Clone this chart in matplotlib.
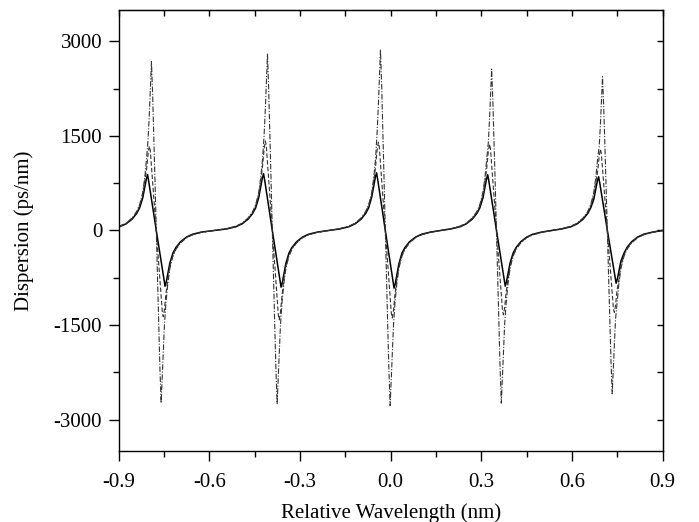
import matplotlib
matplotlib.use("Agg")
import matplotlib.pyplot as plt
from matplotlib.ticker import MultipleLocator

plt.rcParams['font.family'] = ['Liberation Serif', 'DejaVu Serif']
plt.rcParams['axes.unicode_minus'] = False

# curve values (wavelength in nm, dispersion in ps/nm)
solid_x = [-0.9, -0.876, -0.856, -0.841, -0.831, -0.821, -0.814, -0.809, -0.805, -0.801, -0.791, -0.776,
           -0.761, -0.751, -0.747, -0.743, -0.738, -0.731, -0.721, -0.711, -0.696, -0.676, -0.656, -0.626,
           -0.584,
           -0.542, -0.512, -0.492, -0.472, -0.457, -0.447, -0.437, -0.430, -0.425, -0.421, -0.417, -0.407, -0.392,
           -0.377, -0.367, -0.363, -0.359, -0.354, -0.347, -0.337, -0.327, -0.312, -0.292, -0.272, -0.242,
           -0.205,
           -0.168, -0.138, -0.118, -0.098, -0.083, -0.073, -0.063, -0.056, -0.051, -0.047, -0.043, -0.033, -0.018,
           -0.003, 0.007, 0.011, 0.015, 0.020, 0.027, 0.037, 0.047, 0.062, 0.082, 0.102, 0.132,
           0.166,
           0.200, 0.230, 0.250, 0.270, 0.285, 0.295, 0.305, 0.312, 0.317, 0.321, 0.325, 0.335, 0.350,
           0.365, 0.375, 0.379, 0.383, 0.388, 0.395, 0.405, 0.415, 0.430, 0.450, 0.470, 0.500,
           0.534,
           0.567, 0.597, 0.617, 0.637, 0.652, 0.662, 0.672, 0.679, 0.684, 0.688, 0.692, 0.702, 0.717,
           0.732, 0.742, 0.746, 0.750, 0.755, 0.762, 0.772, 0.782, 0.797, 0.817, 0.837, 0.867,
           0.9]
solid_y = [55, 105, 180, 270, 360, 515, 690, 815, 885, 777, 462, 0,
           -462, -777, -885, -815, -690, -515, -360, -270, -180, -105, -60, -25,
           0,
           25, 60, 105, 180, 270, 360, 520, 700, 830, 900, 790, 470, 0,
           -470, -790, -900, -830, -700, -520, -360, -270, -180, -105, -60, -25,
           0,
           25, 60, 105, 180, 270, 360, 529, 712, 844, 915, 803, 478, 0,
           -478, -803, -916, -844, -712, -529, -360, -270, -180, -105, -60, -25,
           0,
           25, 60, 105, 180, 270, 360, 515, 690, 815, 885, 777, 462, 0,
           -462, -777, -885, -815, -690, -515, -360, -270, -180, -105, -60, -25,
           0,
           25, 60, 105, 180, 270, 360, 493, 664, 787, 853, 749, 446, 0,
           -437, -735, -837, -772, -651, -484, -360, -270, -180, -105, -60, -25,
           0]

dash_x = [-0.9, -0.876, -0.856, -0.841, -0.831, -0.821, -0.814, -0.808, -0.803, -0.799, -0.796, -0.786, -0.776,
          -0.766, -0.756, -0.753, -0.749, -0.744, -0.738, -0.731, -0.721, -0.711, -0.696, -0.676, -0.656, -0.626,
          -0.584,
          -0.542, -0.512, -0.492, -0.472, -0.457, -0.447, -0.437, -0.430, -0.424, -0.419, -0.415, -0.412, -0.402,
          -0.392, -0.382, -0.372, -0.369, -0.365, -0.360, -0.354, -0.347, -0.337, -0.327, -0.312, -0.292, -0.272,
          -0.242,
          -0.205,
          -0.168, -0.138, -0.118, -0.098, -0.083, -0.073, -0.063, -0.056, -0.050, -0.045, -0.041, -0.038, -0.028,
          -0.018, -0.008, 0.002, 0.005, 0.009, 0.014, 0.020, 0.027, 0.037, 0.047, 0.062, 0.082, 0.102, 0.132,
          0.166,
          0.200, 0.230, 0.250, 0.270, 0.285, 0.295, 0.305, 0.312, 0.318, 0.323, 0.327, 0.330, 0.340,
          0.350, 0.360, 0.370, 0.373, 0.377, 0.382, 0.388, 0.395, 0.405, 0.415, 0.430, 0.450, 0.470, 0.500,
          0.534,
          0.567, 0.597, 0.617, 0.637, 0.652, 0.662, 0.672, 0.679, 0.685, 0.690, 0.694, 0.697, 0.707,
          0.717, 0.727, 0.737, 0.740, 0.744, 0.749, 0.755, 0.762, 0.772, 0.782, 0.797, 0.817, 0.837, 0.867,
          0.9]
dash_y = [60, 110, 190, 285, 390, 560, 780, 976, 1225, 1340, 1273, 636, 0,
          -651, -1302, -1370, -1253, -999, -780, -560, -390, -285, -190, -110, -65, -28,
          0,
          28, 65, 110, 190, 285, 390, 560, 780, 1034, 1298, 1420, 1349, 674,
          0, -674, -1349, -1420, -1298, -1034, -780, -560, -390, -285, -190, -110, -65,
          -28,
          0,
          28, 65, 110, 190, 285, 390, 560, 780, 1020, 1280, 1400, 1330, 665,
          0, -660, -1320, -1390, -1271, -1013, -780, -560, -390, -285, -190, -110, -65, -28,
          0,
          28, 65, 110, 190, 285, 390, 560, 780, 999, 1253, 1370, 1302, 651,
          0, -636, -1273, -1340, -1225, -976, -780, -560, -390, -285, -190, -110, -65, -28,
          0,
          28, 65, 110, 190, 285, 390, 560, 780, 940, 1179, 1290, 1225, 613,
          0, -617, -1235, -1300, -1189, -948, -780, -560, -390, -285, -190, -110, -65, -28,
          0]

dashdot_x = [-0.9, -0.876, -0.856, -0.841, -0.831, -0.821, -0.814, -0.808, -0.803, -0.799, -0.795, -0.792,
             -0.788, -0.784, -0.780, -0.776, -0.772, -0.768, -0.764, -0.760, -0.757, -0.753, -0.749, -0.744,
             -0.738, -0.731, -0.721, -0.711, -0.696, -0.676, -0.656, -0.626,
             -0.584,
             -0.542, -0.512, -0.492, -0.472, -0.457, -0.447, -0.437, -0.430, -0.424, -0.419, -0.415, -0.411,
             -0.408, -0.404, -0.400, -0.396, -0.392, -0.388, -0.384, -0.380, -0.376, -0.373, -0.369, -0.365,
             -0.360, -0.354, -0.347, -0.337, -0.327, -0.312, -0.292, -0.272, -0.242,
             -0.205,
             -0.168, -0.138, -0.118, -0.098, -0.083, -0.073, -0.063, -0.056, -0.050, -0.045, -0.041, -0.037,
             -0.034, -0.030, -0.026, -0.022, -0.018, -0.014, -0.010, -0.006, -0.002, 0.001, 0.005, 0.009,
             0.014, 0.020, 0.027, 0.037, 0.047, 0.062, 0.082, 0.102, 0.132,
             0.166,
             0.200, 0.230, 0.250, 0.270, 0.285, 0.295, 0.305, 0.312, 0.318, 0.323, 0.327, 0.331,
             0.334, 0.338, 0.342, 0.346, 0.350, 0.354, 0.358, 0.362, 0.366, 0.369, 0.373, 0.377,
             0.382, 0.388, 0.395, 0.405, 0.415, 0.430, 0.450, 0.470, 0.500,
             0.534,
             0.567, 0.597, 0.617, 0.637, 0.652, 0.662, 0.672, 0.679, 0.685, 0.690, 0.694, 0.698,
             0.701, 0.705, 0.709, 0.713, 0.717, 0.721, 0.725, 0.729, 0.733, 0.736, 0.740, 0.744,
             0.749, 0.755, 0.762, 0.772, 0.782, 0.797, 0.817, 0.837, 0.867,
             0.9]
dashdot_y = [65, 115, 200, 300, 410, 600, 850, 1150, 1462, 1852, 2340, 2680,
             2144, 1462, 731, 0, -747, -1494, -2191, -2740, -2391, -1893, -1494, -1150,
             -850, -600, -410, -300, -200, -115, -70, -30,
             0,
             30, 70, 115, 200, 300, 410, 600, 850, 1150, 1527, 1934, 2444,
             2800, 2240, 1527, 764, 0, -750, -1500, -2200, -2750, -2400, -1900, -1500,
             -1150, -850, -600, -410, -300, -200, -115, -70, -30,
             0,
             30, 70, 115, 200, 300, 410, 600, 850, 1150, 1566, 1983, 2505,
             2870, 2297, 1566, 783, 0, -758, -1516, -2224, -2780, -2426, -1921, -1516,
             -1150, -850, -600, -410, -300, -200, -115, -70, -30,
             0,
             30, 70, 115, 200, 300, 410, 600, 850, 1150, 1396, 1768, 2234,
             2560, 2048, 1396, 698, 0, -747, -1494, -2191, -2740, -2391, -1893, -1494,
             -1150, -850, -600, -410, -300, -200, -115, -70, -30,
             0,
             30, 70, 115, 200, 300, 410, 600, 850, 1150, 1331, 1685, 2129,
             2440, 1951, 1331, 665, 0, -707, -1413, -2072, -2590, -2260, -1790, -1413,
             -1150, -850, -600, -410, -300, -200, -115, -70, -30,
             0]

x_ticks = [-0.9, -0.6, -0.3, 0.0, 0.3, 0.6, 0.9]
y_ticks = [-3000, -1500, 0, 1500, 3000]

fig = plt.figure(figsize=(6.99, 5.22), dpi=100)
ax = fig.add_axes([0.170, 0.136, 0.778, 0.845])

ax.plot(solid_x, solid_y, color='black', lw=1.1, linestyle='-')
ax.plot(dash_x, dash_y, color='#333333', lw=0.8, linestyle=(0, (4, 2)))
ax.plot(dashdot_x, dashdot_y, color='#333333', lw=0.8, linestyle=(0, (5, 1.5, 1, 1.5)))

ax.set_xlim(-0.9, 0.9)
ax.set_ylim(-3500, 3500)
ax.set_xticks(x_ticks)
ax.set_xticklabels(['%.1f' % v for v in x_ticks])
ax.set_yticks(y_ticks)
ax.xaxis.set_minor_locator(MultipleLocator(0.15))
ax.yaxis.set_minor_locator(MultipleLocator(750))
ax.tick_params(which='major', direction='out', length=7, width=1, labelsize=15, pad=5)
ax.tick_params(axis='x', which='major', pad=9)
ax.tick_params(which='minor', direction='out', length=4, width=1)

# inward ticks on the top and right frame
top = ax.secondary_xaxis('top')
top.set_xticks(x_ticks)
top.xaxis.set_minor_locator(MultipleLocator(0.15))
top.tick_params(which='both', direction='in', length=4, width=1, labeltop=False)
right = ax.secondary_yaxis('right')
right.set_yticks(y_ticks)
right.yaxis.set_minor_locator(MultipleLocator(750))
right.tick_params(which='both', direction='in', length=4, width=1, labelright=False)

for s in ax.spines.values():
    s.set_linewidth(1.0)

ax.set_xlabel('Relative Wavelength (nm)', fontsize=15, labelpad=8)
ax.set_ylabel('Dispersion (ps/nm)', fontsize=15, labelpad=14)

fig.savefig('out.png', dpi=100)
